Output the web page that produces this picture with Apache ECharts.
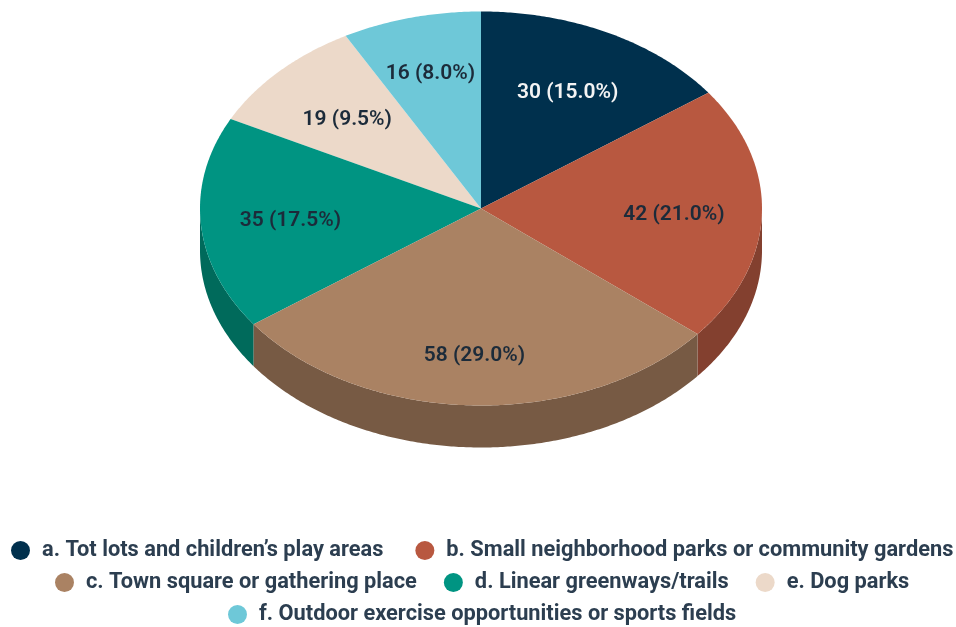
<!DOCTYPE html>
<html><head><meta charset="utf-8">
<style>html,body{margin:0;padding:0;background:#fff}#c{width:956px;height:627px}</style>
<script src="https://cdn.jsdelivr.net/npm/echarts@6/dist/echarts.min.js"></script></head>
<body><div id="c"></div>
<script>
const categories = ["a. Tot lots and children’s play areas","b. Small neighborhood parks or community gardens","c. Town square or gathering place","d. Linear greenways/trails","e. Dog parks","f. Outdoor exercise opportunities or sports fields"];
const counts = [30,42,58,35,19,16];
const percents = ["15.0","21.0","29.0","17.5","9.5","8.0"];
const topColors = ["#00304d","#b85840","#aa8263","#009482","#ecd9c9","#6ec8d8"];
const sideColors = ["#00243a","#83402f","#775a44","#006a5b","#a89a8f","#4e8e9a"];
const labelColors = ["#f4f4f4","#1c2b3a","#1c2b3a","#1c2b3a","#1c2b3a","#1c2b3a"];
const legendRows = [[0,1],[2,3,4],[5]];
const legendLefts = [11,55,228];
const legendTops = [539.5,571.5,603.5];
const legendGaps = [32,27,25];
// pie geometry
const CX=481, CY=208.5, RX=281, RY=197, DEPTH=42;
const labelNudge = [[0,4],[2,2],[-0.5,13],[0,2],[3.5,4],[-3,-5]];
const total = counts.reduce((a,b)=>a+b,0);
const pt=(deg,dy=0,k=1)=>{const t=deg*Math.PI/180;return [CX+RX*k*Math.sin(t),CY-RY*k*Math.cos(t)+dy];};
const arc=(from,to,dy=0)=>{const n=Math.max(2,Math.ceil((to-from)/0.5));const out=[];for(let i=0;i<=n;i++)out.push(pt(from+(to-from)*i/n,dy));return out;};
function startAngle(i){let s=0;for(let j=0;j<i;j++)s+=counts[j];return s/total*360;}
function renderSlice(i,api){
  const a0=startAngle(i), a1=a0+api.value(0)/total*360;
  const children=[];
  const w0=Math.max(a0,90), w1=Math.min(a1,270);
  if(w1>w0){
    const top=arc(w0,w1), bottom=arc(w0,w1,DEPTH).reverse();
    children.push({type:'polygon',z2:1,shape:{points:top.concat(bottom)},style:{fill:sideColors[i]}});
  }
  children.push({type:'polygon',z2:10,shape:{points:[[CX,CY]].concat(arc(a0,a1))},style:{fill:topColors[i]}});
  const mid=(a0+a1)/2, p=pt(mid,0,0.68);
  children.push({type:'text',z2:50,x:p[0]+labelNudge[i][0],y:p[1]+labelNudge[i][1],style:{
    text:counts[i]+' ('+percents[i]+'%)',fill:labelColors[i],font:'600 21px Roboto',align:'center',verticalAlign:'middle'}});
  return {type:'group',children};
}
const series=categories.map((name,i)=>({
  type:'custom',name,coordinateSystem:'none',silent:true,animation:false,
  z:i===2?3:(i===1||i===3?2:1),
  itemStyle:{color:topColors[i]},
  data:[[counts[i]]],
  renderItem:(p,api)=>renderSlice(i,api)
}));
const legend=legendRows.map((row,r)=>({
  left:legendLefts[r],top:legendTops[r],orient:'horizontal',icon:'circle',itemWidth:19,itemHeight:19,itemGap:legendGaps[r],
  selectedMode:false,padding:0,
  data:row.map(i=>categories[i]),
  textStyle:{fontFamily:'Roboto',fontWeight:700,fontSize:21.8,color:'#2c3e50',padding:[0,0,0,7]}
}));
echarts.init(document.getElementById('c'),null,{renderer:'canvas'}).setOption({animation:false,backgroundColor:'#fff',legend,series});
</script></body></html>
